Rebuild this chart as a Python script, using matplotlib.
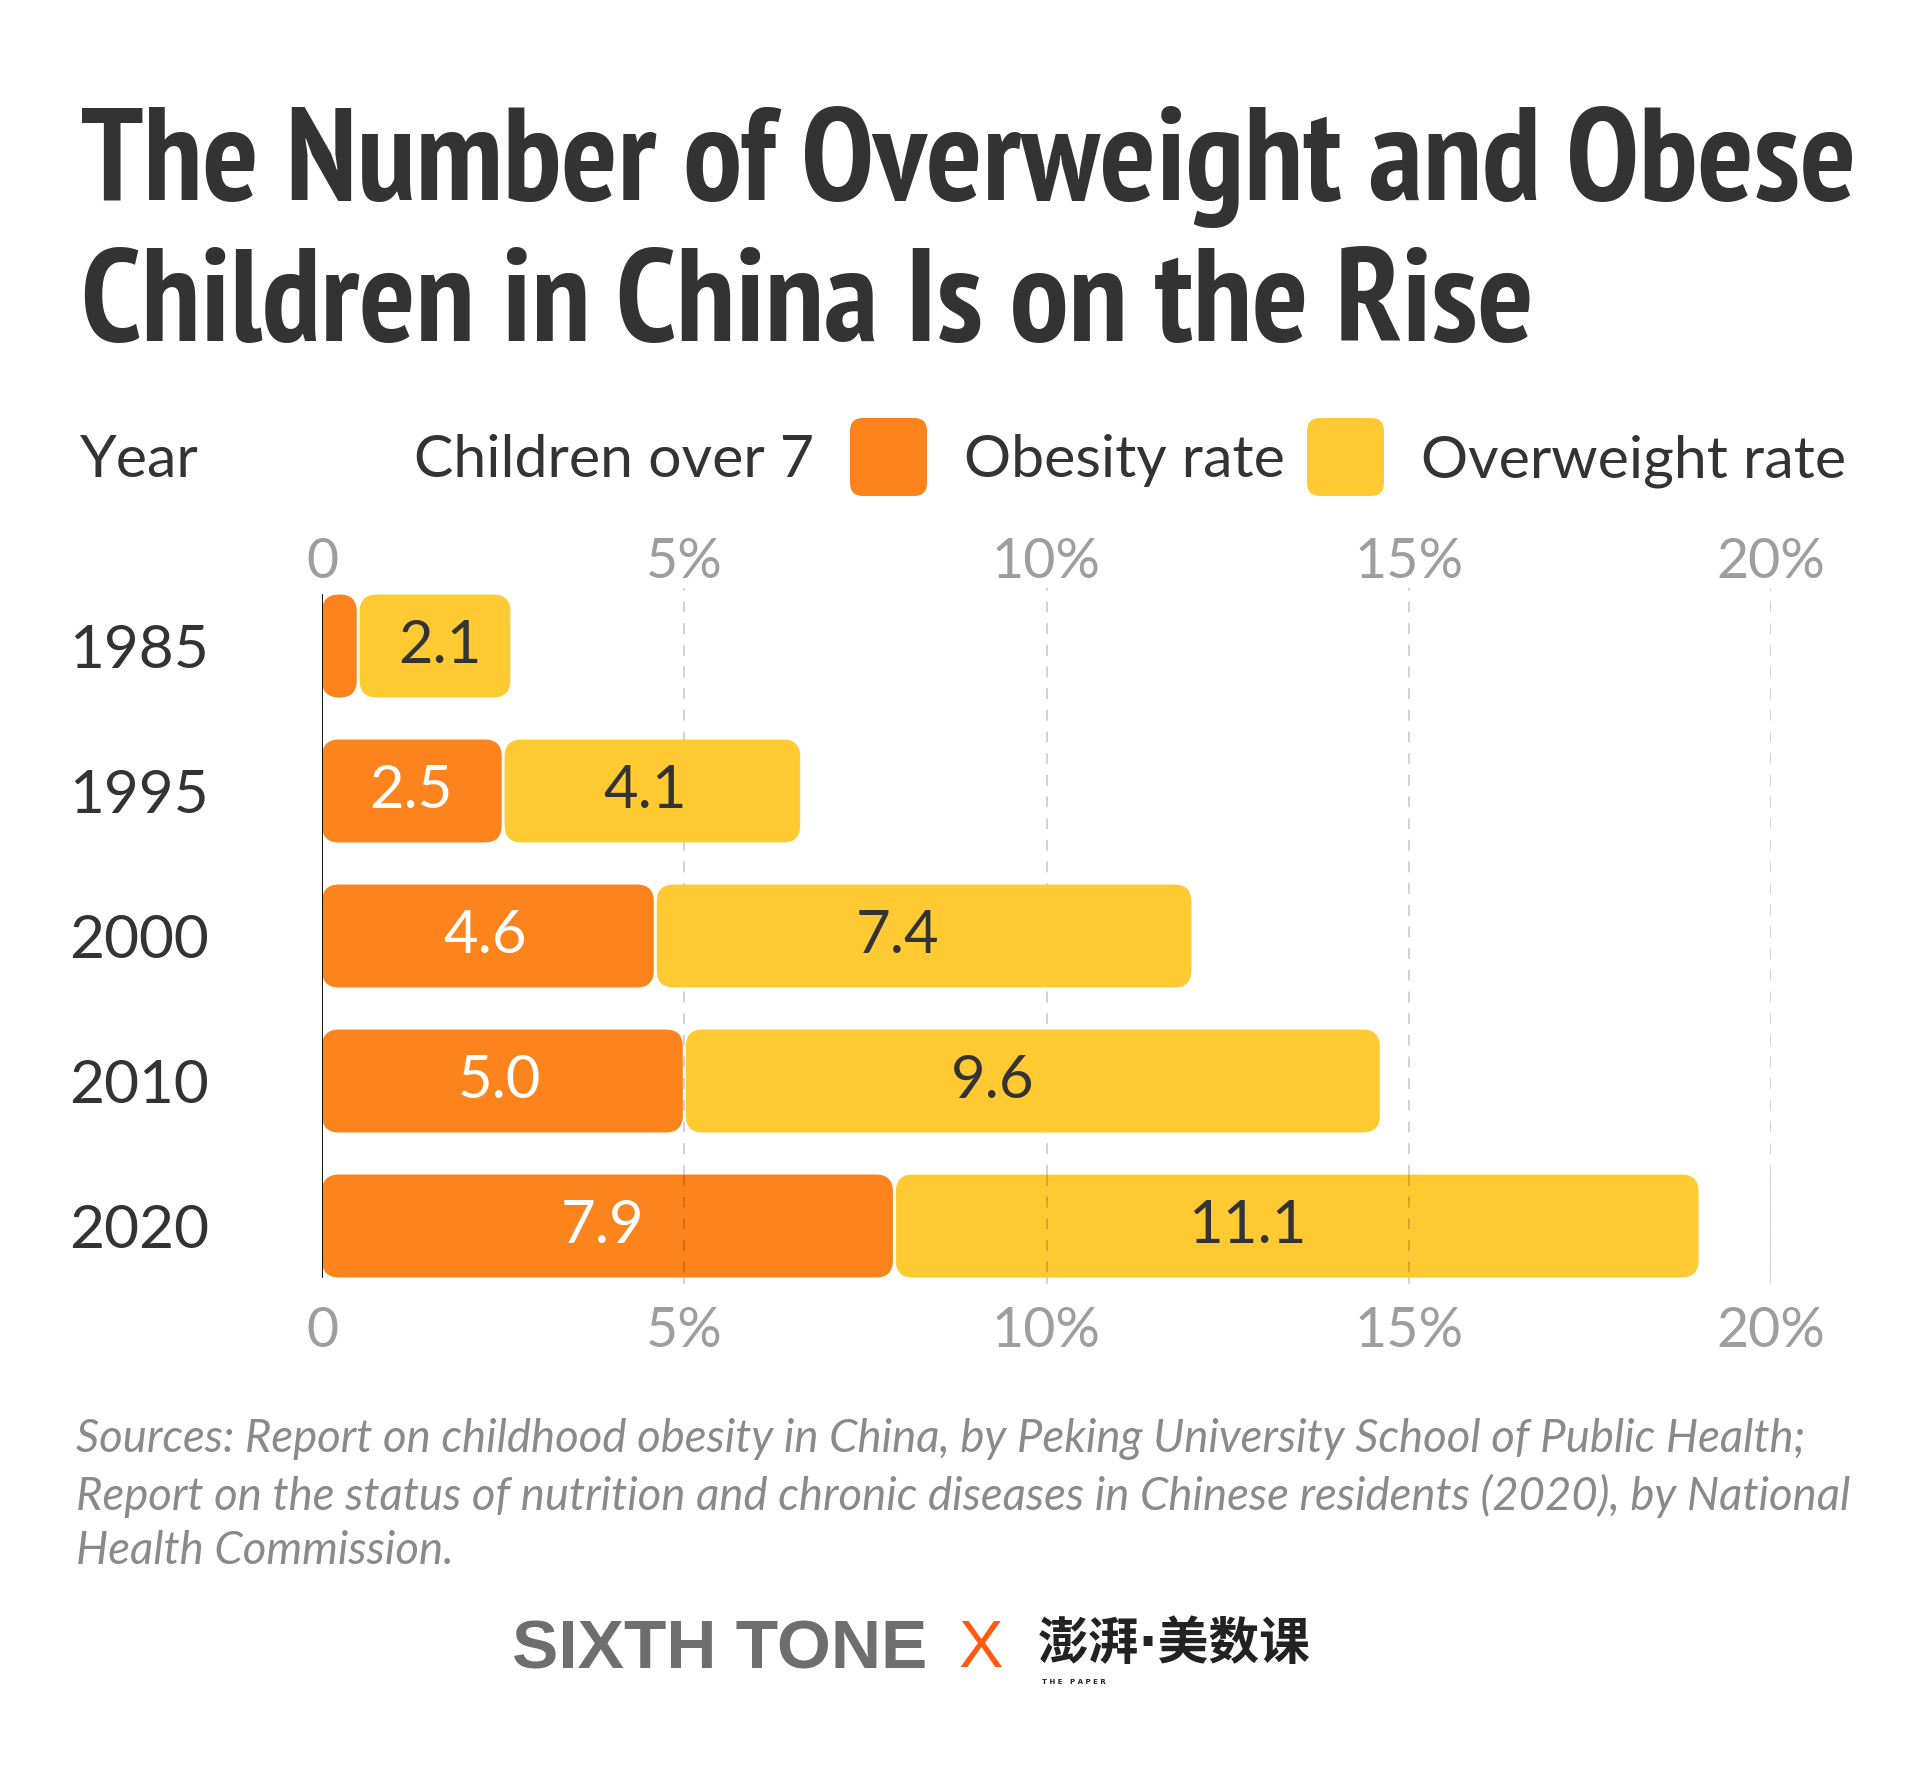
import matplotlib

matplotlib.use("Agg")
import matplotlib.pyplot as plt
from matplotlib import font_manager as fm
from matplotlib.patches import FancyBboxPatch
from matplotlib.textpath import TextPath

years = ["1985", "1995", "2000", "2010", "2020"]
obesity = [0.5, 2.5, 4.6, 5.0, 7.9]
overweight = [2.1, 4.1, 7.4, 9.6, 11.1]
obesity_labels = ["", "2.5", "4.6", "5.0", "7.9"]
overweight_labels = ["2.1", "4.1", "7.4", "9.6", "11.1"]
xticks = [0, 5, 10, 15, 20]
xtick_labels = ["0", "5%", "10%", "15%", "20%"]

TITLE_1 = "The Number of Overweight and Obese"
TITLE_2 = "Children in China Is on the Rise"

ORANGE = "#FD841C"
YELLOW = "#FFCA32"
DARK = "#333333"
GRAY = "#9E9E9E"


def text_w(s, prop):
    return TextPath((0, 0), s, size=10, prop=prop).get_extents().width


def pick_condensed(target_ratio=1776 / 98):
    # the original uses a condensed display face: take the installed bold,
    # proportional, condensed face whose width / cap height is closest to it
    best, best_d = None, None
    for f in fm.fontManager.ttflist:
        name = f.fname.lower().replace("_", "").replace(" ", "").replace("-", "")
        if not ("condensed" in name or "narrow" in name):
            continue
        if "bold" not in name or any(k in name for k in ("semibold", "extrabold", "ultrabold",
                                                           "italic", "oblique", "mono")):
            continue
        try:
            prop = fm.FontProperties(fname=f.fname)
            if text_w("iiiiiiii", prop) > 0.6 * text_w("MMMMMMMM", prop):
                continue  # monospaced
            w = text_w(TITLE_1, prop)
            h = TextPath((0, 0), "H", size=10, prop=prop).get_extents().height
        except Exception:
            continue
        d = abs(w / h - target_ratio)
        if best_d is None or d < best_d:
            best, best_d = prop, d
    if best is None:
        best = fm.FontProperties(family="Roboto", weight="bold")
    return best


W, H = 1926, 1769
fig = plt.figure(figsize=(W / 100, H / 100), dpi=100)
fig.patch.set_facecolor("white")

ax_l, ax_r, ax_t, ax_b = 322, 1771, 588, 1284
ax = fig.add_axes([ax_l / W, 1 - ax_b / H, (ax_r - ax_l) / W, (ax_b - ax_t) / H])
ax.set_xlim(0, 20)
ax.set_ylim(4.4, -0.4)
for s in ax.spines.values():
    s.set_visible(False)

bar_h = 0.71
gap = 0.04
px_x = (ax_r - ax_l) / 20
px_y = (ax_b - ax_t) / 4.8
aspect = px_x / px_y
radius = 17 / px_x

ypos = list(range(len(years)))
b1 = ax.barh(ypos, obesity, height=bar_h, color=ORANGE)
b2 = ax.barh(ypos, overweight, left=obesity, height=bar_h, color=YELLOW)

# swap the plain rectangles for rounded ones
for bars, first in ((b1, True), (b2, False)):
    for rect in bars:
        x, y = rect.get_x(), rect.get_y()
        w, h = rect.get_width(), rect.get_height()
        x0 = x if first else x + gap / 2
        x1 = x + w - (gap / 2 if first else 0)
        r = min(radius, (x1 - x0) / 2)
        p = FancyBboxPatch((x0, y), x1 - x0, h,
                           boxstyle=f"round,pad=0,rounding_size={r}",
                           mutation_aspect=aspect,
                           facecolor=rect.get_facecolor(), edgecolor="none",
                           zorder=2)
        rect.remove()
        ax.add_patch(p)

for i in ypos:
    if obesity_labels[i]:
        ax.text(obesity[i] * 0.49, i, obesity_labels[i], ha="center", va="center",
                color="white", fontsize=43, family="Lato", zorder=4)
    ax.text(obesity[i] + overweight[i] * 0.416 + 0.26, i, overweight_labels[i],
            ha="center", va="center", color=DARK, fontsize=43, family="Lato", zorder=4)

# grid
for xv in xticks[1:]:
    ax.axvline(xv, color="#cfcfcf", lw=1.3, ls=(0, (6, 6)), zorder=0)
    ax.plot([xv, xv], [4 - bar_h / 2, 4 + bar_h / 2], color="black", alpha=0.18,
            lw=1.3, ls=(0, (6, 6)), zorder=3)
ax.plot([0, 0], [-bar_h / 2, 4 + bar_h / 2], color="black", lw=1.3, zorder=5)

ax.set_yticks(ypos)
ax.set_yticklabels(years, fontsize=43.5, family="Lato", color=DARK)
ax.tick_params(axis="y", length=0, pad=81.5)
ax.set_xticks(xticks)
ax.set_xticklabels(xtick_labels, fontsize=40, family="Lato", color=GRAY)
ax.tick_params(axis="x", length=0, pad=16)

top = ax.secondary_xaxis("top")
top.set_xticks(xticks)
top.set_xticklabels(xtick_labels, fontsize=40, family="Lato", color=GRAY)
top.tick_params(length=0, pad=0)
for s in top.spines.values():
    s.set_visible(False)

# title, fitted to the reference width
tfont = pick_condensed()
t1 = fig.text(81 / W, 1 - 200 / H, TITLE_1, fontproperties=tfont, fontsize=80,
              color=DARK, va="baseline")
t2 = fig.text(81 / W, 1 - 341 / H, TITLE_2, fontproperties=tfont, fontsize=80,
              color=DARK, va="baseline")
fig.canvas.draw()
w1 = t1.get_window_extent().width
size = 80 * 1776 / w1
t1.set_fontsize(size)
t2.set_fontsize(size)

# legend row
leg_y = 1 - 477 / H
fs_leg = 42.5
fig.text(80 / W, leg_y, "Year", fontsize=fs_leg, family="Lato", color=DARK, va="baseline")
fig.text(414 / W, leg_y, "Children over 7", fontsize=fs_leg, family="Lato", color=DARK,
         va="baseline")
fig.text(964 / W, leg_y, "Obesity rate", fontsize=fs_leg, family="Lato", color=DARK,
         va="baseline")
fig.text(1421 / W, leg_y, "Overweight rate", fontsize=fs_leg, family="Lato", color=DARK,
         va="baseline")
for x0, col in ((850, ORANGE), (1307, YELLOW)):
    fig.add_artist(FancyBboxPatch((x0 / W, 1 - 496 / H), 77 / W, 78 / H,
                                  boxstyle=f"round,pad=0,rounding_size={13 / W}",
                                  mutation_aspect=W / H, transform=fig.transFigure,
                                  facecolor=col, edgecolor="none"))

# sources
sources = ("Sources: Report on childhood obesity in China, by Peking University School of Public Health;\n"
           "Report on the status of nutrition and chronic diseases in Chinese residents (2020), by National\n"
           "Health Commission.")
fig.text(76 / W, 1 - 1418 / H, sources, fontsize=32.8, family="Lato", style="italic",
         color="#8A8A8A", va="top", linespacing=1.37)

# footer
fig.text(512 / W, 1 - 1650 / H, "SIXTH TONE", fontsize=50, fontweight="bold",
         family="Liberation Sans", color="#6E6E6E", va="center")
fig.text(981 / W, 1 - 1650 / H, "X", fontsize=48, family="Liberation Sans",
         color="#FF5A0F", va="center", ha="center")
fig.text(1038 / W, 1 - 1645 / H, "澎湃·美数课", fontsize=36.5, fontweight="bold",
         family=["DejaVu Sans", "Noto Sans CJK SC"], color="#222222", va="center")
fig.text(1042 / W, 1 - 1682 / H, "T H E   P A P E R", fontsize=5, fontweight="bold",
         family="DejaVu Sans", color="#222222", va="center")

fig.savefig("out.png", dpi=100)
